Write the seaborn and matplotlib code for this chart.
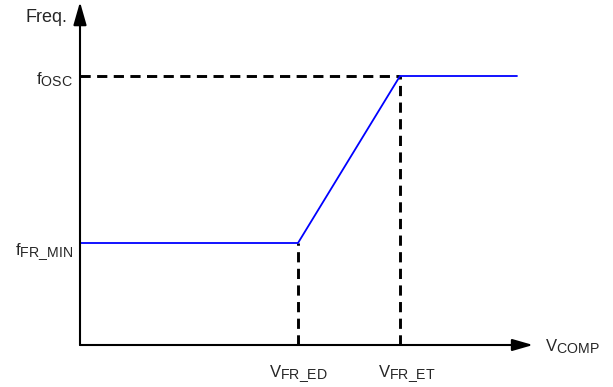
import matplotlib
matplotlib.use("Agg")
import matplotlib.pyplot as plt
import matplotlib.transforms as mtrans
import matplotlib._mathtext as _mt
import seaborn as sns
import pandas as pd

# Data (relative units)
vcomp = [0.0, 2.18, 3.20, 4.37]
freq = [1.02, 1.02, 2.69, 2.69]
v_fr_ed = 2.18
v_fr_et = 3.20
f_fr_min = 1.02
f_osc = 2.69
x_max = 4.53
y_max = 3.43

sns.set_theme(style="white")
plt.rcParams['font.family'] = ['Liberation Sans', 'DejaVu Sans']
plt.rcParams['mathtext.fontset'] = 'custom'
plt.rcParams['mathtext.rm'] = 'Liberation Sans'
plt.rcParams['mathtext.it'] = 'Liberation Sans'
_mt.SHRINK_FACTOR = 0.85  # larger subscripts, as in the reference

W, H = 613, 387
fig = plt.figure(figsize=(W / 100, H / 100), dpi=100)
ax = fig.add_axes([80 / W, 1 - 345 / H, 453 / W, 343 / H])
ax.set_xlim(0, x_max)
ax.set_ylim(0, y_max)
for s in ax.spines.values():
    s.set_visible(False)
ax.set_xticks([])
ax.set_yticks([])
ax.patch.set_alpha(0)

df = pd.DataFrame({"V": vcomp, "F": freq})
sns.lineplot(data=df, x="V", y="F", ax=ax, color="#0000ff", lw=1.3, sort=False,
             estimator=None, zorder=3)

dash = dict(color="black", lw=2.1, linestyle=(0, (3.5, 2.2)), zorder=2, clip_on=False)
ax.plot([0, v_fr_et], [f_osc, f_osc], **dash)
ax.plot([v_fr_et, v_fr_et], [0, f_osc], **dash)
ax.plot([v_fr_ed, v_fr_ed], [0, f_fr_min], **dash)

ax.annotate("", xy=(x_max, 0), xytext=(0, 0), xycoords="data",
            arrowprops=dict(arrowstyle="-|>,head_length=1.25,head_width=0.36",
                            mutation_scale=10, color="black", lw=1.5,
                            shrinkA=0, shrinkB=0),
            annotation_clip=False)
ax.annotate("", xy=(0, y_max), xytext=(0, 0), xycoords="data",
            arrowprops=dict(arrowstyle="-|>,head_length=1.4,head_width=0.4",
                            mutation_scale=10, color="black", lw=1.5,
                            shrinkA=0, shrinkB=0),
            annotation_clip=False)


def off(dx, dy):
    return mtrans.offset_copy(ax.transData, fig, x=dx, y=dy, units="dots")


fs = 12
ax.text(0, y_max, "Freq.", ha="right", va="baseline", fontsize=13,
        transform=off(-13, -20))
ax.text(0, f_osc, r"f$_\mathregular{OSC}$", ha="right", va="baseline", fontsize=fs,
        transform=off(-7, -8))
ax.text(0, f_fr_min, r"f$_\mathregular{FR\_MIN}$", ha="right", va="baseline", fontsize=fs,
        transform=off(-7, -12))
ax.text(x_max, 0, r"V$_\mathregular{COMP}$", ha="left", va="baseline", fontsize=fs,
        transform=off(12, -6))
ax.text(v_fr_ed, 0, r"V$_\mathregular{FR\_ED}$", ha="center", va="baseline", fontsize=fs,
        transform=off(0.5, -32))
ax.text(v_fr_et, 0, r"V$_\mathregular{FR\_ET}$", ha="center", va="baseline", fontsize=fs,
        transform=off(6.5, -32))

fig.savefig("out.png", dpi=100, facecolor="white")
